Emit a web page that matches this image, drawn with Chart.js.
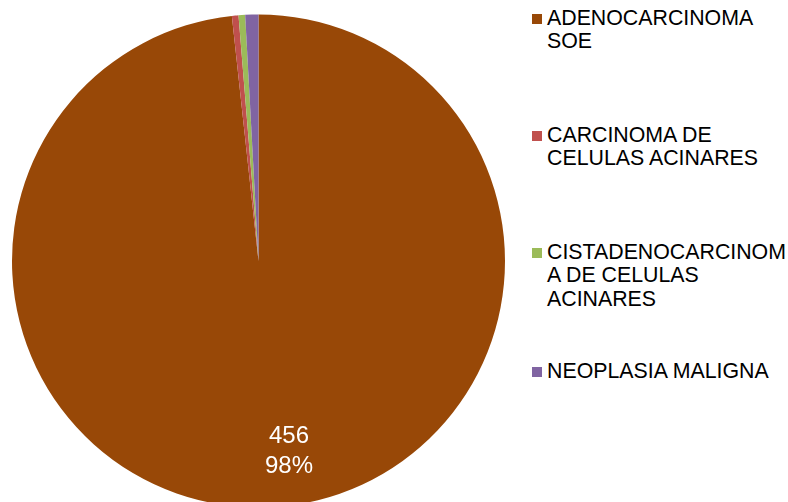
<!DOCTYPE html>
<html>
<head>
<meta charset="utf-8">
<script src="https://cdn.jsdelivr.net/npm/chart.js@4/dist/chart.umd.min.js"></script>
<style>
  html, body { margin: 0; padding: 0; background: #fff; overflow: hidden; }
  body { width: 788px; height: 502px; position: relative; font-family: "Liberation Sans", Arial, sans-serif; }
  #wrap { position: absolute; left: 0; top: 0; width: 517px; height: 522px; }
  .leg { position: absolute; left: 532px; }
  .leg .box { position: absolute; left: 0; width: 10px; height: 10px; }
  .leg .txt { position: absolute; left: 15px; top: 0; font-size: 21.33px; line-height: 23.3px; color: #000; white-space: nowrap; }
</style>
</head>
<body>
<div id="wrap"><canvas id="pieChart"></canvas></div>
<div id="legend"></div>
<script>
// Chart data
const categories = [
    'ADENOCARCINOMA SOE',
    'CARCINOMA DE CELULAS ACINARES',
    'CISTADENOCARCINOMA DE CELULAS ACINARES',
    'NEOPLASIA MALIGNA'
];
const legendLines = [
    ['ADENOCARCINOMA', 'SOE'],
    ['CARCINOMA DE', 'CELULAS ACINARES'],
    ['CISTADENOCARCINOM', 'A DE CELULAS', 'ACINARES'],
    ['NEOPLASIA MALIGNA']
];
const counts = [456, 2, 2, 4];
const colors = ['#984807', '#C0504D', '#9BBB59', '#8064A2'];
const labeledIndex = [0]; // only the big slice carries a data label

// HTML legend (wrapped text like the original)
const legendTops = [7, 124, 241, 359.5];
const legendEl = document.getElementById('legend');
categories.forEach((c, i) => {
    const row = document.createElement('div');
    row.className = 'leg';
    row.style.top = legendTops[i] + 'px';
    row.innerHTML = '<div class="box" style="top:7px;background:' + colors[i] + '"></div>' +
        '<div class="txt">' + legendLines[i].join('<br>') + '</div>';
    legendEl.appendChild(row);
});

// draws "value / percent" inside the slice
const sliceLabels = {
    id: 'sliceLabels',
    afterDatasetsDraw(chart) {
        const ctx = chart.ctx;
        const meta = chart.getDatasetMeta(0);
        const data = chart.data.datasets[0].data;
        const total = data.reduce((a, b) => a + b, 0);
        ctx.save();
        ctx.fillStyle = '#fff';
        ctx.font = '24px "Liberation Sans", Arial, sans-serif';
        ctx.textAlign = 'center';
        ctx.textBaseline = 'alphabetic';
        labeledIndex.forEach(i => {
            const arc = meta.data[i];
            const p = arc.getProps(['x', 'y', 'startAngle', 'endAngle', 'outerRadius'], true);
            const mid = (p.startAngle + p.endAngle) / 2 - 0.106;
            const r = p.outerRadius * 0.776;
            const x = p.x + Math.cos(mid) * r;
            const y = p.y + Math.sin(mid) * r;
            ctx.fillText(String(data[i]), x, y - 6.7);
            ctx.fillText(Math.round(data[i] / total * 100) + '%', x, y + 23.3);
        });
        ctx.restore();
    }
};

const ctx = document.getElementById('pieChart').getContext('2d');
new Chart(ctx, {
    type: 'pie',
    data: {
        labels: categories,
        datasets: [{
            data: counts,
            backgroundColor: colors,
            borderWidth: 0,
            hoverOffset: 0
        }]
    },
    options: {
        responsive: true,
        maintainAspectRatio: false,
        animation: false,
        layout: { padding: { left: 12, right: 12, top: 14.5, bottom: 14.5 } },
        plugins: {
            legend: { display: false },
            tooltip: { enabled: false }
        }
    },
    plugins: [sliceLabels]
});
</script>
</body>
</html>
